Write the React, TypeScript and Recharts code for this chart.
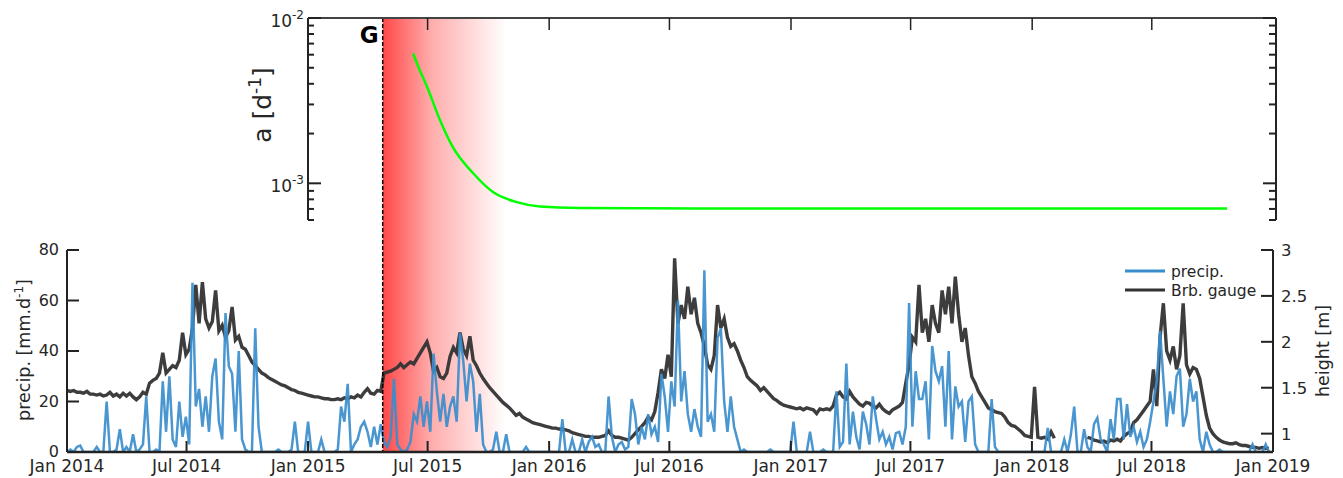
import React from "react";
import {
  ComposedChart,
  LineChart,
  Line,
  XAxis,
  YAxis,
  ReferenceArea,
  ReferenceLine,
  Legend,
  Label,
} from "recharts";

const FONT = "'DejaVu Sans', sans-serif";
const INK = "#262626";
const AXIS = "#222222";
const BLUE = "#3a8dcc";
const GAUGE = "#333333";
const GREEN = "#00ff00";

// x is counted in days from 1 Jan 2014, one sample every 5 days
const STEP = 5;

const tickDays = [0, 181, 365, 546, 730, 912, 1096, 1277, 1461, 1642, 1826];
const tickLabels = [
  "Jan 2014", "Jul 2014", "Jan 2015", "Jul 2015", "Jan 2016", "Jul 2016",
  "Jan 2017", "Jul 2017", "Jan 2018", "Jul 2018", "Jan 2019",
];

const precipTicks = [0, 20, 40, 60, 80];
const heightTicks = [1, 1.5, 2, 2.5, 3];
const rateTicks = [6e-4, 7e-4, 8e-4, 9e-4, 1e-3, 2e-3, 3e-3, 4e-3, 5e-3, 6e-3, 7e-3, 8e-3, 9e-3, 1e-2];
const rateLabelled = [1e-3, 1e-2];

// event G and the fading band after it (days)
const gDay = 478;
const bandEnd = 665;

// precipitation [mm/d]
const precip2014 = [
  0, 1, 0, 2, 2.5, 0, 0, 0, 0, 2,
  0, 0, 20, 0, 0, 1, 9, 0, 2, 0,
  7, 0, 1, 3, 22, 0, 0, 1, 0, 28,
  8, 30, 5, 2, 20, 6, 14, 3, 67, 18,
  25, 10, 22, 8, 30, 37, 12, 5, 55, 34,
  31, 8, 40, 5, 1, 0, 0, 49, 10, 0,
  0, 0, 0, 0, 1, 0, 0, 0, 1, 12,
  0, 0, 0,
];
const precip2015 = [
  12, 0, 0, 0, 5, 0, 0, 0, 0, 1,
  18, 12, 27, 0, 3, 5, 10, 12, 8, 2,
  10, 3, 11, 4, 2, 6, 29, 3, 1, 0,
  1, 4, 15, 12, 22, 10, 20, 8, 39, 24,
  12, 23, 10, 18, 22, 12, 47, 36, 20, 35,
  28, 8, 23, 3, 0, 0, 1, 8, 0, 0,
  7, 0, 0, 0, 0, 0, 2, 0, 0, 0,
  0, 0, 0,
];
const precip2016 = [
  0, 0, 0, 0, 13, 0, 0, 5, 0, 0,
  5, 0, 4, 6, 2, 3, 0, 0, 22, 6,
  0, 3, 4, 1, 2, 21, 15, 3, 10, 5,
  15, 7, 10, 4, 31, 22, 8, 28, 18, 60,
  20, 32, 15, 8, 17, 10, 6, 72, 12, 15,
  8, 45, 49, 20, 8, 22, 10, 5, 0, 1,
  0, 0, 0, 0, 0, 0, 0, 1, 0, 0,
  0, 0, 0,
];
const precip2017 = [
  0, 12, 0, 0, 0, 0, 8, 0, 0, 0,
  1, 0, 0, 0, 24, 2, 4, 35, 3, 16,
  6, 1, 16, 11, 3, 22, 13, 5, 8, 3,
  6, 1, 7.5, 8, 3, 10, 59, 10, 32, 21,
  21, 28, 5, 42, 32, 28, 34, 10, 40, 5,
  26, 18, 20, 4, 20, 22, 3, 0, 0, 0,
  0, 21, 2, 0, 0, 0, 0, 0, 0, 0,
  0, 0, 0,
];
const precip2018 = [
  0, 0, 0, 0, 0, 9.5, 0, 0, 0, 0,
  5, 0, 7, 18, 0, 0, 9, 2, 0, 11,
  13.5, 5, 3, 0, 13, 5, 21, 21, 5, 19,
  6, 10, 4, 8, 2, 5, 12, 20, 28, 48,
  29, 10, 24, 15, 30, 33, 10, 15, 29, 20,
  24, 5, 0, 8, 3, 0, 0, 1, 0, 0,
  0, 0, 0, 0, 0, 0, 0, 3, 0, 0,
  0, 3, 0,
];

// Brb. gauge height [m]
const gauge2014 = [
  1.47, 1.46, 1.47, 1.45, 1.45, 1.44, 1.46, 1.43, 1.43, 1.42,
  1.43, 1.41, 1.42, 1.45, 1.41, 1.43, 1.4, 1.44, 1.41, 1.44,
  1.4, 1.37, 1.4, 1.45, 1.43, 1.55, 1.58, 1.6, 1.66, 1.88,
  1.66, 1.7, 1.74, 1.72, 1.8, 2.1, 1.86, 1.92, 2.15, 2.62,
  2.2, 2.65, 2.25, 2.15, 2.22, 2.56, 2.12, 2.18, 2.05, 2.12,
  2.38, 2.02, 2.06, 1.94, 1.92, 1.85, 1.78, 1.74, 1.7, 1.66,
  1.64, 1.61, 1.59, 1.57, 1.55, 1.53, 1.52, 1.5, 1.48, 1.47,
  1.45, 1.44, 1.43,
];
const gauge2015 = [
  1.42, 1.41, 1.4, 1.4, 1.39, 1.38, 1.38, 1.37, 1.37, 1.38,
  1.37, 1.39, 1.38, 1.4, 1.39, 1.42, 1.4, 1.45, 1.49, 1.44,
  1.43, 1.47, 1.46, 1.66, 1.67, 1.68, 1.7, 1.72, 1.76, 1.72,
  1.75, 1.78, 1.76, 1.82, 1.88, 1.94, 2.0, 1.88, 1.68, 1.72,
  1.62, 1.6, 1.66, 1.84, 1.94, 1.88, 2.1, 1.92, 1.85, 2.06,
  1.8, 1.74, 1.66, 1.6, 1.55, 1.5, 1.46, 1.42, 1.38, 1.34,
  1.31, 1.28, 1.24, 1.2, 1.22, 1.18, 1.16, 1.14, 1.12, 1.11,
  1.1, 1.09, 1.08,
];
const gauge2016 = [
  1.07, 1.06, 1.06, 1.05, 1.05, 1.04, 1.03, 1.01, 1.0, 0.99,
  0.98, 0.97, 0.97, 0.96, 0.96, 0.96, 0.97, 0.98, 1.03, 0.98,
  0.96, 0.96, 0.95, 0.94, 0.93, 0.96, 1.0, 1.04, 1.08, 1.12,
  1.18, 1.15, 1.24, 1.45, 1.7, 1.6, 1.86, 1.62, 2.91, 2.2,
  2.4, 2.25, 2.6, 2.3, 2.48, 2.2, 2.1, 1.95, 1.75, 1.7,
  1.85, 2.4, 2.15, 2.25, 2.05, 1.95, 1.98, 1.9, 1.8, 1.72,
  1.62, 1.58, 1.55, 1.52, 1.47, 1.5, 1.46, 1.42, 1.38, 1.36,
  1.33, 1.31, 1.3,
];
const gauge2017 = [
  1.29, 1.28, 1.27, 1.28, 1.26, 1.28, 1.27, 1.26, 1.22, 1.27,
  1.26, 1.27, 1.26, 1.3, 1.42, 1.45, 1.4, 1.38, 1.46, 1.4,
  1.36, 1.32, 1.3, 1.34, 1.33, 1.3, 1.28, 1.32, 1.27, 1.24,
  1.22, 1.26, 1.28, 1.3, 1.34, 1.55, 1.75, 2.05, 2.0, 2.62,
  2.1, 2.25, 2.0, 2.4, 2.2, 2.1, 2.56, 2.3, 2.6, 2.2,
  2.71, 2.3, 2.0, 2.15, 1.85, 1.62, 1.55, 1.46, 1.4, 1.34,
  1.28, 1.26, 1.24, 1.23, 1.22, 1.18, 1.12, 1.09, 1.08, 1.05,
  1.02, 0.98, 0.97,
];
const gauge2018 = [
  0.96, 1.51, 0.96, 0.95, 0.96, 0.94, 1.02, 0.95, null, null,
  null, null, null, null, null, null, null, 0.96, 0.95, 0.93,
  0.92, 0.91, 0.92, 0.9, 0.93, 0.92, 0.94, 0.92, 0.97, 1.0,
  1.02, 1.12, 1.15, 1.2, 1.25, 1.3, 1.35, 1.7, 1.3, 2.05,
  2.42, 1.9, 1.8, 1.95, 1.7, 1.85, 2.42, 1.75, 1.65, 1.72,
  1.7, 1.6, 1.4, 1.2, 1.06, 1.0, 0.96, 0.93, 0.91, 0.9,
  0.89, 0.89, 0.9, 0.88, 0.87, 0.87, 0.86, 0.85, 0.85, 0.84,
  0.85, 0.84, 0.84,
];

// fitted rate a [1/d]
const rateDays = [524, 534, 545, 565, 584, 615, 645, 681, 716, 777, 958, 1756];
const rateValues = [6.1e-3, 4.85e-3, 3.85e-3, 2.4e-3, 1.66e-3, 1.15e-3, 8.85e-4, 7.7e-4, 7.25e-4, 7.1e-4, 7.05e-4, 7.05e-4];

const precip = [...precip2014, ...precip2015, ...precip2016, ...precip2017, ...precip2018];
const gauge = [...gauge2014, ...gauge2015, ...gauge2016, ...gauge2017, ...gauge2018];
const seriesRows = precip.map((p, i) => ({ day: i * STEP, precip: p, gauge: gauge[i] }));
const rateRows = rateDays.map((d, i) => ({ day: d, rate: rateValues[i] }));

const legendOrder = ["precip.", "Brb. gauge"];

function DateTick(props: any) {
  const { x, y, payload } = props;
  const axisY = y - 6;
  const label = tickLabels[tickDays.indexOf(payload.value)];
  return (
    <g>
      <line x1={x} x2={x} y1={axisY} y2={axisY - 11} stroke={AXIS} strokeWidth={2} />
      <text x={x} y={axisY + 20} textAnchor="middle" fontSize={17} fill={INK} fontFamily={FONT}>
        {label}
      </text>
    </g>
  );
}

function TopDateTick(props: any) {
  const { x, y } = props;
  return <line x1={x} x2={x} y1={y} y2={y + 12} stroke={AXIS} strokeWidth={1.5} />;
}

function PrecipTick(props: any) {
  const { x, y, payload } = props;
  const ax = x + 8;
  return (
    <g>
      <line x1={ax} x2={ax + 12} y1={y} y2={y} stroke={AXIS} strokeWidth={2} />
      <text x={x} y={y + 5} textAnchor="end" fontSize={16} fill={INK} fontFamily={FONT}>
        {payload.value}
      </text>
    </g>
  );
}

function HeightTick(props: any) {
  const { x, y, payload } = props;
  const ax = x - 8;
  return (
    <g>
      <line x1={ax} x2={ax - 12} y1={y} y2={y} stroke={AXIS} strokeWidth={2} />
      <text x={x} y={y + 6} textAnchor="start" fontSize={16.5} fill={INK} fontFamily={FONT}>
        {payload.value}
      </text>
    </g>
  );
}

function RateTickLeft(props: any) {
  const { x, y, payload } = props;
  const ax = x + 4;
  const major = rateLabelled.includes(payload.value);
  const exp = Math.round(Math.log10(payload.value));
  return (
    <g>
      <line x1={ax} x2={ax + (major ? 13 : 6)} y1={y} y2={y} stroke={AXIS} strokeWidth={2} />
      {major && (
        <text x={x} y={y + 9} textAnchor="end" fontSize={17} fill={INK} fontFamily={FONT}>
          10
          <tspan dy={-8} fontSize={12}>
            {exp}
          </tspan>
        </text>
      )}
    </g>
  );
}

function RateTickRight(props: any) {
  const { x, y, payload } = props;
  const major = rateLabelled.includes(payload.value);
  return <line x1={x} x2={x - (major ? 13 : 7)} y1={y} y2={y} stroke={AXIS} strokeWidth={2} />;
}

function PrecipTitle() {
  return (
    <text transform="translate(30,350) rotate(-90)" textAnchor="middle" fontSize={17.5} fill={INK} fontFamily={FONT}>
      precip. [mm.d
      <tspan dy={-7} fontSize={12}>
        -1
      </tspan>
      <tspan dy={7}>]</tspan>
    </text>
  );
}

function HeightTitle() {
  return (
    <text transform="translate(1329,351) rotate(-90)" textAnchor="middle" fontSize={17.5} fill={INK} fontFamily={FONT}>
      height [m]
    </text>
  );
}

function RateTitle() {
  return (
    <text transform="translate(271,105) rotate(-90)" textAnchor="middle" fontSize={25} fill={INK} fontFamily={FONT}>
      a [d
      <tspan dy={-10} fontSize={17}>
        -1
      </tspan>
      <tspan dy={10}>]</tspan>
    </text>
  );
}

function GaugeLegend(props: any) {
  const entries = [...(props.payload || [])].sort(
    (a: any, b: any) => legendOrder.indexOf(a.value) - legendOrder.indexOf(b.value)
  );
  return (
    <svg width={150} height={44} style={{ display: "block" }}>
      {entries.map((e: any, i: number) => (
        <g key={e.value}>
          <line x1={5} x2={45} y1={11 + i * 19} y2={11 + i * 19} stroke={e.color} strokeWidth={3} />
          <text x={51} y={16.5 + i * 19} fontSize={15.5} fill={INK} fontFamily={FONT}>
            {e.value}
          </text>
        </g>
      ))}
    </svg>
  );
}

function Band(props: any) {
  const { x, y, width, height } = props;
  const top = 18;
  return <rect x={x} y={top} width={width} height={y + height - top} fill="url(#gBand)" />;
}

function GMarker(props: any) {
  const { x1 } = props;
  return (
    <g>
      <line x1={x1} x2={x1} y1={18} y2={452} stroke="#000" strokeWidth={1.5} strokeDasharray="4 2" />
      <text x={x1 - 4} y={43} textAnchor="end" fontSize={23} fontWeight="bold" fill="#000" fontFamily={FONT}>
        G
      </text>
    </g>
  );
}

export default function App() {
  return (
    <div style={{ position: "absolute", left: 0, top: 0, width: 1343, height: 478, background: "#fff" }}>
      <div style={{ position: "absolute", left: 0, top: 0 }}>
        <ComposedChart width={1343} height={478} data={seriesRows} margin={{ top: 250, right: 20, bottom: 0, left: 17 }}>
          <defs>
            <linearGradient id="gBand" x1="0" y1="0" x2="1" y2="0">
              <stop offset="0" stopColor="#ff0000" stopOpacity={0.72} />
              <stop offset="0.4" stopColor="#ff0000" stopOpacity={0.32} />
              <stop offset="1" stopColor="#ff0000" stopOpacity={0} />
            </linearGradient>
          </defs>
          <XAxis
            dataKey="day"
            type="number"
            domain={[0, 1826]}
            ticks={tickDays}
            interval={0}
            tick={DateTick}
            tickLine={false}
            tickSize={0}
            tickMargin={6}
            height={26}
            axisLine={{ stroke: AXIS, strokeWidth: 2.5 }}
            allowDataOverflow
          />
          <YAxis
            yAxisId="p"
            domain={[0, 80]}
            ticks={precipTicks}
            interval={0}
            width={50}
            tick={PrecipTick}
            tickLine={false}
            tickSize={0}
            tickMargin={8}
            axisLine={{ stroke: AXIS, strokeWidth: 2 }}
            allowDataOverflow
          >
            <Label content={PrecipTitle} />
          </YAxis>
          <YAxis
            yAxisId="h"
            orientation="right"
            domain={[0.8, 3]}
            ticks={heightTicks}
            interval={0}
            width={50}
            tick={HeightTick}
            tickLine={false}
            tickSize={0}
            tickMargin={8}
            axisLine={{ stroke: AXIS, strokeWidth: 2 }}
            allowDataOverflow
          >
            <Label content={HeightTitle} />
          </YAxis>
          <ReferenceArea yAxisId="p" x1={gDay} x2={bandEnd} shape={Band} />
          <Line
            yAxisId="h"
            dataKey="gauge"
            name="Brb. gauge"
            type="linear"
            stroke={GAUGE}
            strokeWidth={3.4}
            strokeOpacity={0.95}
            strokeLinejoin="miter"
            dot={false}
            activeDot={false}
            isAnimationActive={false}
          />
          <Line
            yAxisId="p"
            dataKey="precip"
            name="precip."
            type="linear"
            stroke={BLUE}
            strokeWidth={2.5}
            strokeOpacity={0.92}
            dot={false}
            activeDot={false}
            isAnimationActive={false}
          />
          <ReferenceLine yAxisId="p" x={gDay} shape={GMarker} />
          <Legend
            verticalAlign="middle"
            align="center"
            content={GaugeLegend}
            wrapperStyle={{ position: "absolute", left: 1120, top: 260, width: 150, height: 44 }}
          />
        </ComposedChart>
      </div>
      <div style={{ position: "absolute", left: 0, top: 0 }}>
        <LineChart width={1343} height={230} data={rateRows} margin={{ top: 17, right: 17, bottom: 10, left: 257 }}>
          <XAxis
            dataKey="day"
            type="number"
            orientation="top"
            domain={[365, 1830]}
            ticks={tickDays.filter((d) => d > 365 && d < 1826)}
            interval={0}
            tick={TopDateTick}
            tickLine={false}
            tickSize={0}
            tickMargin={0}
            height={1}
            axisLine={{ stroke: "#444", strokeWidth: 2 }}
            allowDataOverflow
          />
          <YAxis
            yAxisId="l"
            scale="log"
            domain={[6e-4, 1e-2]}
            ticks={rateTicks}
            interval={0}
            width={51}
            tick={RateTickLeft}
            tickLine={false}
            tickSize={0}
            tickMargin={4}
            axisLine={{ stroke: AXIS, strokeWidth: 2 }}
            allowDataOverflow
          >
            <Label content={RateTitle} />
          </YAxis>
          <YAxis
            yAxisId="r"
            orientation="right"
            scale="log"
            domain={[6e-4, 1e-2]}
            ticks={rateTicks}
            interval={0}
            width={50}
            tick={RateTickRight}
            tickLine={false}
            tickSize={0}
            tickMargin={0}
            axisLine={{ stroke: AXIS, strokeWidth: 2 }}
            allowDataOverflow
          />
          <Line
            yAxisId="l"
            dataKey="rate"
            type="monotone"
            stroke={GREEN}
            strokeWidth={2.5}
            dot={false}
            activeDot={false}
            isAnimationActive={false}
          />
        </LineChart>
      </div>
    </div>
  );
}
